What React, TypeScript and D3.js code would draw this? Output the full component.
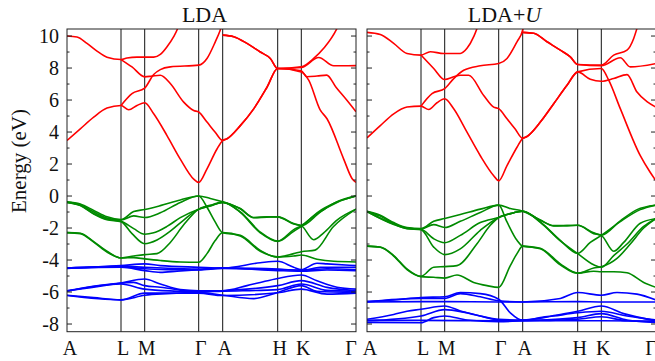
import * as d3 from 'd3';

// high-symmetry path (k distance along path, arbitrary units)
const kTicks = [0, 54, 77.7, 131.7, 155.7, 210.7, 234.3, 289];
const kLabels = ['A', 'L', 'M', 'Γ', 'A', 'H', 'K', 'Γ'];
const eMajor = [-8, -6, -4, -2, 0, 2, 4, 6, 8, 10];
const eMinor = [-7, -5, -3, -1, 1, 3, 5, 7, 9];

// ---- LDA ----
const ldaCond = [
  [[0,10.0],[10,9.94],[20,9.54],[30,9.06],[40,8.68],[54,8.53],[60,8.63],[70,8.68],[86.7,8.68],[93.3,8.85],[100,9.33],[106.7,9.96],[110.7,10.48],[113,10.9]],
  [[54,8.53],[65,8.07],[77.7,7.45],[85,7.5],[93.3,7.55],[103.3,7.03],[116.7,5.87],[126.7,5.35],[131.7,5.25],[140,4.62],[148,4.0],[155.7,3.47],[160,3.58],[173.3,4.4],[186.7,5.45],[200,6.8],[210.7,7.97],[234.3,7.83],[239.7,7.46],[250,7.5],[259.7,7.56],[269,6.8],[279.7,6.0],[289,5.27]],
  [[54,5.66],[65,6.4],[77.7,6.75],[86.7,7.6],[93.3,7.9],[103.3,8.07],[131.7,8.18],[140,8.6],[148.3,9.64],[153.3,10.38],[156,10.9]],
  [[0,3.47],[13.3,4.2],[26.7,4.93],[40,5.5],[54,5.66],[61.7,5.39],[70,5.66],[77.7,5.83],[86.7,5.14],[100,3.78],[113.3,2.31],[126.7,1.06],[131.7,0.85],[140,1.7],[150,2.94],[155.7,3.47],[160,3.58],[173.3,4.4],[186.7,5.45],[200,6.8],[210.7,7.97],[234.3,7.75],[241.7,7.24],[253,5.4],[260,4.83],[276.7,2.31],[285,1.1],[289,0.85]],
  [[155.7,10.06],[166.7,9.96],[180,9.54],[193.3,9.0],[203.3,8.6],[210.7,7.97],[234.3,8.08],[246.7,8.6],[256.7,9.23],[270,10.48],[273,10.9]],
  [[155.7,10.06],[166.7,9.96],[180,9.54],[193.3,9.0],[203.3,8.6],[210.7,7.97],[234.3,8.03],[251.7,8.66],[266.7,8.14],[289,8.15]],
];

const ldaVal = [
  [[0,-0.36],[13.3,-0.5],[26.7,-0.9],[40,-1.3],[54,-1.47],[66.7,-0.97],[77.7,-0.84],[93.3,-0.6],[113.3,-0.25],[131.7,0],[143.3,-0.15],[155.7,-0.36],[173.3,-0.78],[186.7,-1.34],[200,-1.3],[210.7,-1.3],[226.7,-1.72],[234.3,-1.85],[253.3,-1.0],[270,-0.35],[289,0]],
  [[0,-0.38],[13.3,-0.55],[26.7,-1.0],[40,-1.38],[54,-1.5],[66.7,-1.24],[77.7,-1.34],[93.3,-1.05],[113.3,-0.4],[131.7,0],[140,-0.7],[148,-1.6],[155.7,-2.29],[173.3,-2.46],[193.3,-3.4],[210.7,-3.82],[226.7,-3.75],[234.3,-3.69],[250,-3.95],[266.7,-4.08],[289,-4.12]],
  [[0,-0.4],[13.3,-0.58],[26.7,-1.1],[40,-1.45],[54,-1.58],[66.7,-2.04],[77.7,-2.39],[86.7,-2.3],[100,-1.9],[113.3,-1.35],[131.7,-0.82],[143.3,-0.6],[155.7,-0.4],[173.3,-0.8],[186.7,-1.36],[200,-1.32],[210.7,-1.3],[226.7,-1.75],[234.3,-1.85],[246.7,-2.73],[256.7,-2.3],[270,-1.5],[289,-0.82]],
  [[0,-0.4],[13.3,-0.6],[26.7,-1.12],[40,-1.48],[54,-1.6],[65,-2.35],[77.7,-2.98],[90,-2.75],[103.3,-2.2],[116.7,-1.5],[131.7,-0.82],[143.3,-0.62],[155.7,-0.4],[173.3,-0.99],[193.3,-2.25],[210.7,-2.81],[226.7,-2.1],[234.3,-1.85],[250,-1.1],[270,-0.4],[289,0]],
  [[0,-2.29],[13.3,-2.35],[26.7,-2.88],[40,-3.5],[54,-3.87],[66.7,-3.75],[77.7,-3.66],[90,-3.6],[103.3,-2.9],[116.7,-1.8],[131.7,-0.82],[143.3,-0.58],[155.7,-0.38],[173.3,-1.02],[193.3,-2.3],[210.7,-2.84],[226.7,-2.2],[234.3,-1.9],[250,-1.05],[270,-0.38],[289,0]],
  [[0,-2.29],[13.3,-2.33],[26.7,-2.85],[40,-3.45],[54,-3.87],[66.7,-3.85],[77.7,-3.93],[93.3,-4.03],[113.3,-4.12],[131.7,-4.14],[140,-3.6],[148,-2.8],[155.7,-2.29],[173.3,-2.5],[193.3,-3.45],[210.7,-3.8],[226.7,-3.6],[234.3,-3.48],[248,-3.38],[266.3,-1.92],[289,-0.82]],
];

const ldaD = [
  [[0,-4.5],[54,-4.35],[77.7,-4.24],[93.3,-4.35],[131.7,-4.45],[155.7,-4.5],[193.3,-4.17],[210.7,-4.08],[226.7,-4.45],[234.3,-4.6],[250,-4.2],[260,-4.24],[289,-4.35]],
  [[0,-4.5],[54,-4.4],[77.7,-4.45],[131.7,-4.56],[155.7,-4.5],[210.7,-4.56],[234.3,-4.66],[253.3,-4.45],[289,-4.45]],
  [[0,-4.5],[54,-4.45],[77.7,-4.66],[93.3,-4.77],[110,-4.7],[131.7,-4.6],[155.7,-4.5],[210.7,-4.66],[234.3,-4.7],[260,-4.62],[289,-4.66]],
  [[0,-4.52],[54,-4.42],[77.7,-4.55],[100,-4.6],[131.7,-4.62],[155.7,-4.52],[210.7,-4.6],[234.3,-4.62],[260,-4.55],[289,-4.6]],
  [[0,-5.92],[26.7,-5.7],[54,-5.44],[77.7,-5.19],[93.3,-5.5],[113.3,-5.85],[131.7,-5.92],[155.7,-5.92],[180,-5.6],[193.3,-5.4],[210.7,-5.15],[234.3,-4.94],[250,-5.3],[270,-5.7],[289,-5.82]],
  [[0,-5.92],[54,-5.44],[66.7,-5.4],[77.7,-5.6],[93.3,-5.7],[131.7,-5.99],[155.7,-5.92],[210.7,-5.6],[234.3,-5.29],[260,-5.71],[289,-5.92]],
  [[0,-6.2],[26.7,-6.35],[54,-6.49],[77.7,-6.2],[100,-6.1],[131.7,-6.03],[155.7,-6.2],[186.7,-6.41],[210.7,-6.03],[234.3,-5.6],[250,-5.95],[289,-6.03]],
  [[0,-6.22],[54,-6.49],[77.7,-6.07],[131.7,-6.07],[155.7,-6.22],[210.7,-6.05],[234.3,-5.82],[260,-6.13],[289,-6.07]],
  [[0,-5.95],[54,-5.5],[77.7,-5.82],[110,-5.95],[131.7,-6.0],[155.7,-5.95],[210.7,-5.85],[234.3,-5.5],[260,-5.9],[289,-5.95]],
];

// ---- LDA+U ----
const ldauCond = [
  [[0,10.23],[13.3,10.1],[26.7,9.54],[40,8.91],[54,8.81],[63.3,9.02],[76.7,8.91],[93.3,8.91],[100,9.23],[106.7,9.96],[110,10.48],[112,10.9]],
  [[54,8.81],[66.7,7.97],[77.7,7.28],[86.7,7.45],[93.3,7.55],[101.7,7.55],[116.7,6.29],[126.7,5.56],[131.7,5.46],[140,4.83],[148,4.2],[155.7,3.61],[160,3.72],[173.3,4.62],[186.7,5.77],[200,6.92],[210.7,7.76],[234.3,7.97],[241.7,7.24],[253.3,5.46],[273.3,2.52],[283,1.5],[289,0.95]],
  [[54,5.62],[65,6.4],[77.7,6.71],[86.7,7.34],[96.7,7.86],[113.3,8.14],[131.7,8.28],[140,8.6],[150,9.64],[155.7,10.38],[157,10.9]],
  [[0,3.63],[13.3,4.4],[26.7,5.14],[40,5.56],[54,5.62],[61.7,5.41],[70,5.83],[77.7,6.08],[86.7,5.45],[100,3.99],[113.3,2.52],[126.7,1.27],[131.7,0.95],[140,1.9],[150,3.05],[155.7,3.61],[160,3.72],[173.3,4.62],[186.7,5.77],[200,6.92],[210.7,7.76],[223.3,7.3],[234.3,7.17],[246.7,7.34],[260,7.59],[270,6.5],[280,5.9],[289,5.56]],
  [[155.7,10.23],[166.7,10.17],[180,9.64],[193.3,9.12],[203.3,8.7],[210.7,8.22],[234.3,8.18],[246.7,8.81],[260,9.12],[266.7,9.85],[270,10.48],[272,10.9]],
  [[155.7,10.23],[166.7,10.17],[180,9.64],[193.3,9.12],[203.3,8.7],[210.7,8.22],[234.3,8.14],[253.3,8.64],[263.3,8.07],[289,8.28]],
];

const ldauVal = [
  [[0,-0.95],[13.3,-1.2],[26.7,-1.66],[40,-1.97],[54,-2.04],[66.7,-1.58],[77.7,-1.41],[93.3,-1.16],[113.3,-0.82],[131.7,-0.57],[143.3,-0.78],[155.7,-0.95],[173.3,-1.5],[186.7,-1.85],[200,-1.85],[210.7,-1.83],[226.7,-2.3],[234.3,-2.44],[253.3,-1.55],[270,-0.85],[289,-0.57]],
  [[0,-0.97],[13.3,-1.25],[26.7,-1.72],[40,-2.0],[54,-2.06],[66.7,-1.79],[77.7,-1.97],[93.3,-1.58],[113.3,-1.03],[131.7,-0.57],[140,-1.62],[150,-2.77],[155.7,-3.13],[173.3,-3.26],[193.3,-4.24],[210.7,-4.81],[226.7,-4.7],[234.3,-4.73],[246.7,-4.73],[260,-4.8],[276.7,-5.4],[289,-5.71]],
  [[0,-0.97],[26.7,-1.75],[40,-2.02],[54,-2.08],[66.7,-2.67],[77.7,-2.92],[93.3,-2.46],[113.3,-1.66],[131.7,-1.34],[143.3,-1.1],[155.7,-0.95],[173.3,-1.51],[186.7,-1.87],[200,-1.85],[210.7,-1.83],[226.7,-2.35],[234.3,-2.46],[246.7,-3.45],[256.7,-2.9],[273.3,-1.7],[289,-1.41]],
  [[0,-0.97],[26.7,-1.78],[40,-2.04],[54,-2.1],[66.7,-3.19],[77.7,-3.66],[93.3,-3.3],[113.3,-2.14],[131.7,-1.34],[143.3,-1.1],[155.7,-0.95],[173.3,-1.62],[193.3,-2.77],[210.7,-3.58],[223.3,-2.9],[234.3,-2.46],[253.3,-1.6],[273.3,-0.85],[289,-0.57]],
  [[0,-3.13],[13.3,-3.19],[26.7,-3.72],[40,-4.56],[54,-5.02],[66.7,-4.45],[77.7,-4.41],[90,-4.35],[110,-2.98],[123.3,-1.83],[131.7,-1.34],[143.3,-1.1],[155.7,-0.95],[173.3,-1.64],[193.3,-2.8],[210.7,-3.6],[226.7,-4.3],[234.3,-4.45],[246.7,-3.72],[260,-3.0],[276.7,-1.9],[289,-1.41]],
  [[0,-3.13],[13.3,-3.2],[26.7,-3.75],[40,-4.6],[54,-5.04],[66.7,-5.08],[77.7,-5.13],[90,-4.94],[106.7,-5.4],[120,-5.6],[131.7,-5.71],[143.3,-4.35],[150,-3.6],[155.7,-3.13],[173.3,-3.3],[193.3,-4.3],[210.7,-4.83],[226.7,-4.5],[234.3,-4.42],[250,-3.9],[263.3,-3.0],[276.7,-2.0],[289,-1.41]],
];

const ldauD = [
  [[0,-6.62],[54,-6.6],[77.7,-6.6],[131.7,-6.62],[155.7,-6.62],[210.7,-6.6],[234.3,-6.62],[289,-6.62]],
  [[0,-6.58],[26.7,-6.5],[54,-6.34],[77.7,-6.3],[93.3,-6.03],[113.3,-6.1],[131.7,-6.45],[143.3,-7.3],[155.7,-7.77],[173.3,-7.6],[193.3,-7.4],[210.7,-7.2],[234.3,-6.87],[256.7,-7.35],[289,-7.8]],
  [[0,-6.62],[54,-6.4],[77.7,-6.4],[93.3,-6.1],[113.3,-6.3],[131.7,-6.55],[155.7,-6.62],[193.3,-6.4],[210.7,-6.03],[234.3,-6.2],[250,-6.03],[270,-6.13],[289,-6.5]],
  [[0,-7.77],[54,-7.77],[131.7,-7.8],[155.7,-7.77],[210.7,-7.8],[234.3,-7.8],[289,-7.82]],
  [[0,-7.7],[26.7,-7.4],[40,-7.2],[54,-7.08],[77.7,-6.87],[93.3,-7.18],[113.3,-7.5],[131.7,-7.71],[155.7,-7.75],[186.7,-7.5],[210.7,-7.3],[234.3,-7.2],[260,-7.5],[289,-7.75]],
  [[0,-7.9],[54,-7.92],[66.7,-7.6],[77.7,-7.5],[100,-7.75],[131.7,-7.85],[155.7,-7.8],[210.7,-7.6],[234.3,-7.35],[260,-7.75],[289,-7.9]],
  [[0,-7.8],[54,-7.5],[77.7,-7.1],[100,-7.3],[131.7,-7.75],[155.7,-7.8],[210.7,-7.7],[234.3,-7.55],[260,-7.8],[289,-7.85]],
];

const W = 655;
const H = 361;
const top = 29;
const bottom = 331.7;
const panelW = 289;
const panelX = [67, 367];
const font = "'Liberation Serif', 'Times New Roman', serif";

const y = d3.scaleLinear().domain([-8.48, 10.44]).range([bottom, top]);

// small nudges so the neighbouring "Γ" and "A" labels at the panel join don't collide
const labelShift = (i: number) => (i === 0 ? 3 : i === kTicks.length - 1 ? -5 : 2);

const Panel = ({ x0, idx, cond, val, dd, title }: any) => {
  const x = d3.scaleLinear().domain([0, 289]).range([x0, x0 + panelW]);
  const line = d3
    .line<number[]>()
    .x((d) => x(d[0]))
    .y((d) => y(d[1]))
    .curve(d3.curveMonotoneX);
  const clipId = `clip${idx}`;
  const groups: [number[][][], string][] = [
    [dd, '#0000ff'],
    [val, '#008a00'],
    [cond, '#ff0000'],
  ];
  return (
    <g>
      <defs>
        <clipPath id={clipId}>
          <rect x={x0} y={top} width={panelW} height={bottom - top} />
        </clipPath>
      </defs>
      {kTicks.slice(1, -1).map((k, i) => (
        <line key={'v' + i} x1={x(k)} x2={x(k)} y1={top} y2={bottom} stroke="#111" strokeWidth={1} />
      ))}
      <g clipPath={`url(#${clipId})`}>
        {groups.map(([bands, col], gi) =>
          bands.map((b, i) => (
            <path key={gi + '-' + i} d={line(b) || ''} fill="none" stroke={col} strokeWidth={1.6} />
          ))
        )}
      </g>
      <rect x={x0} y={top} width={panelW} height={bottom - top} fill="none" stroke="#222" strokeWidth={1} />
      {eMajor.map((e) => (
        <g key={'t' + e}>
          <line x1={x0} x2={x0 + 5} y1={y(e)} y2={y(e)} stroke="#222" />
          <line x1={x0 + panelW - 5} x2={x0 + panelW} y1={y(e)} y2={y(e)} stroke="#222" />
        </g>
      ))}
      {eMinor.map((e) => (
        <g key={'m' + e}>
          <line x1={x0} x2={x0 + 2.5} y1={y(e)} y2={y(e)} stroke="#222" />
          <line x1={x0 + panelW - 2.5} x2={x0 + panelW} y1={y(e)} y2={y(e)} stroke="#222" />
        </g>
      ))}
      {kTicks.map((k, i) => (
        <text key={'kl' + i} x={x(k) + labelShift(i)} y={355} textAnchor="middle" fontFamily={font} fontSize={20} fill="#111">
          {kLabels[i]}
        </text>
      ))}
      <text x={x0 + panelW / 2 - 7} y={22} textAnchor="middle" fontFamily={font} fontSize={22} fill="#111">
        {title}
        {idx === 1 && <tspan fontStyle="italic">U</tspan>}
      </text>
      {idx === 0 &&
        eMajor.map((e) => (
          <text key={'yl' + e} x={59} y={y(e)} dy="0.35em" textAnchor="end" fontFamily={font} fontSize={20} fill="#111">
            {e}
          </text>
        ))}
    </g>
  );
};

export default function App() {
  return (
    <svg
      width={W}
      height={H}
      style={{ position: 'absolute', left: 0, top: 0, background: '#fff' }}
    >
      <rect width={W} height={H} fill="#fff" />
      <Panel x0={panelX[0]} idx={0} cond={ldaCond} val={ldaVal} dd={ldaD} title="LDA" />
      <Panel x0={panelX[1]} idx={1} cond={ldauCond} val={ldauVal} dd={ldauD} title="LDA+" />
      <text
        transform="translate(26,161) rotate(-90)"
        textAnchor="middle"
        fontFamily={font}
        fontSize={21}
        fill="#111"
      >
        Energy (eV)
      </text>
    </svg>
  );
}
